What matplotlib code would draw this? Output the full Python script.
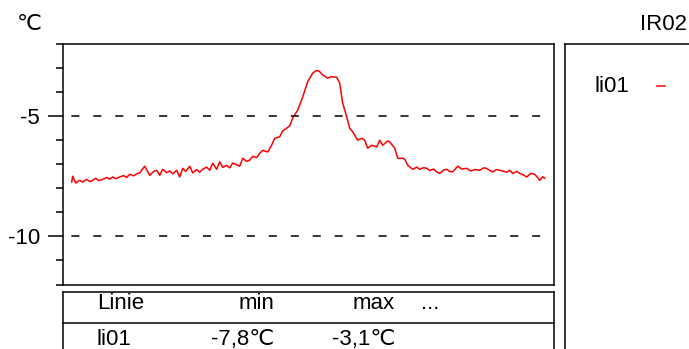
import matplotlib.pyplot as plt
from matplotlib.lines import Line2D

plt.rcParams['font.family'] = ['Liberation Sans', 'DejaVu Sans']
plt.rcParams['lines.scale_dashes'] = False

# ---- data: sample index and temperature (degC) ----
sample = [0, 1, 4, 8, 11, 15, 18, 21, 24, 27, 31, 35, 38, 41, 44, 48, 52, 55,
          58, 62, 65, 68, 73, 78, 82, 85, 88, 91, 95, 98, 101, 105, 108, 111,
          114, 118, 121, 125, 128, 131, 135, 138, 141, 145, 148, 151, 155, 158,
          161, 165, 168, 171, 175, 178, 181, 185, 188, 191, 196, 200, 203, 208,
          211, 215, 218, 221, 226, 231, 236, 241, 244, 246, 248, 251, 256, 260,
          265, 268, 271, 275, 278, 281, 286, 290, 293, 296, 300, 305, 308, 311,
          316, 318, 323, 326, 331, 333, 336, 341, 345, 348, 352, 355, 358, 362,
          365, 368, 372, 375, 378, 381, 386, 390, 395, 399, 403, 408, 412, 415,
          418, 421, 425, 431, 435, 438, 441, 445, 448, 452, 455, 459, 463, 466,
          468, 471, 473]
temp = [-7.74, -7.50, -7.78, -7.67, -7.74, -7.63, -7.72, -7.67, -7.58, -7.68,
        -7.63, -7.55, -7.62, -7.53, -7.60, -7.53, -7.47, -7.55, -7.42, -7.48,
        -7.40, -7.36, -7.08, -7.46, -7.30, -7.25, -7.46, -7.21, -7.35, -7.28,
        -7.40, -7.25, -7.53, -7.17, -7.30, -7.08, -7.36, -7.22, -7.33, -7.21,
        -7.12, -7.25, -6.96, -7.21, -6.90, -7.13, -7.05, -7.15, -6.95, -7.02,
        -7.08, -6.75, -6.88, -6.83, -6.67, -6.72, -6.54, -6.42, -6.49, -6.20,
        -5.92, -5.86, -5.61, -5.50, -5.40, -5.08, -4.75, -4.20, -3.57, -3.21,
        -3.12, -3.10, -3.15, -3.29, -3.42, -3.36, -3.38, -3.63, -4.46, -5.03,
        -5.50, -5.65, -6.00, -5.92, -6.00, -6.33, -6.21, -6.28, -6.00, -6.21,
        -6.03, -6.07, -6.33, -6.75, -6.75, -6.79, -7.04, -7.21, -7.12, -7.21,
        -7.14, -7.17, -7.26, -7.20, -7.32, -7.38, -7.24, -7.21, -7.30, -7.32,
        -7.08, -7.20, -7.17, -7.28, -7.22, -7.25, -7.15, -7.17, -7.26, -7.32,
        -7.22, -7.28, -7.33, -7.25, -7.38, -7.30, -7.38, -7.45, -7.53, -7.38,
        -7.42, -7.55, -7.67, -7.52, -7.58]

series_name = "li01"
channel = "IR02"
unit = "\u2103"
table_header = ["Linie", "min", "max", "..."]
t_min = "-7,8\u2103"
t_max = "-3,1\u2103"

W, H = 689, 349
fig = plt.figure(figsize=(W / 100, H / 100), dpi=100)


def fx(px):
    return px / W


def fy(py):
    return 1 - py / H


FS = 16

# ---- main plot ----
ax = fig.add_axes([fx(63.3), fy(284.5), fx(554 - 63.3), (284.5 - 44) / H])
ax.plot(sample, temp, color="red", linewidth=1.1)
ax.set_xlim(-8.4, 482.3)
ax.set_ylim(-12, -2)
ax.set_xticks([])
ax.set_yticks([-5, -10])
ax.set_yticklabels(["-5", "-10"])
ax.set_yticks(range(-12, -1), minor=True)
ax.tick_params(axis="y", which="major", length=10.8, width=1.1, pad=6,
               labelsize=FS)
ax.tick_params(axis="y", which="minor", length=5.2, width=1.1)
for s in ax.spines.values():
    s.set_linewidth(1.1)
for yv in [-5, -10]:
    ax.axhline(yv, color="black", linewidth=1.1,
               linestyle=(9.8, (5.8, 10.0)))

fig.text(fx(17), fy(24), unit, fontsize=FS, ha="left", va="center")
fig.text(fx(640), fy(24), channel, fontsize=FS, ha="left", va="center")

# ---- stats table under the plot ----
tab = fig.add_axes([fx(63.3), fy(420), fx(554 - 63.3), (420 - 292.3) / H])
tab.set_xlim(0, 1)
tab.set_ylim(0, 1)
tab.set_xticks([])
tab.set_yticks([])
tab.spines["bottom"].set_visible(False)
for s in tab.spines.values():
    s.set_linewidth(1.1)
fig.add_artist(Line2D([fx(63.3), fx(554)], [fy(323.3), fy(323.3)],
                      color="black", linewidth=1.1))
fig.text(fx(96.7), fy(309), table_header[0], fontsize=FS, va="baseline")
fig.text(fx(274), fy(309), table_header[1], fontsize=FS, va="baseline",
         ha="right")
fig.text(fx(395), fy(309), table_header[2], fontsize=FS, va="baseline",
         ha="right")
fig.text(fx(421), fy(309), table_header[3], fontsize=FS, va="baseline")
fig.text(fx(96.7), fy(345), series_name, fontsize=FS, va="baseline")
fig.text(fx(274), fy(345), t_min, fontsize=FS, va="baseline", ha="right")
fig.text(fx(395), fy(345), t_max, fontsize=FS, va="baseline", ha="right")

# ---- legend panel on the right ----
leg = fig.add_axes([fx(565), fy(420), fx(760 - 565), (420 - 44) / H])
leg.set_xticks([])
leg.set_yticks([])
for s in leg.spines.values():
    s.set_linewidth(1.1)
fig.text(fx(595), fy(86), series_name, fontsize=FS, va="center")
fig.add_artist(Line2D([fx(657), fx(665)], [fy(86), fy(86)],
                      color="red", linewidth=1.1))

fig.savefig("out.png", dpi=100)
